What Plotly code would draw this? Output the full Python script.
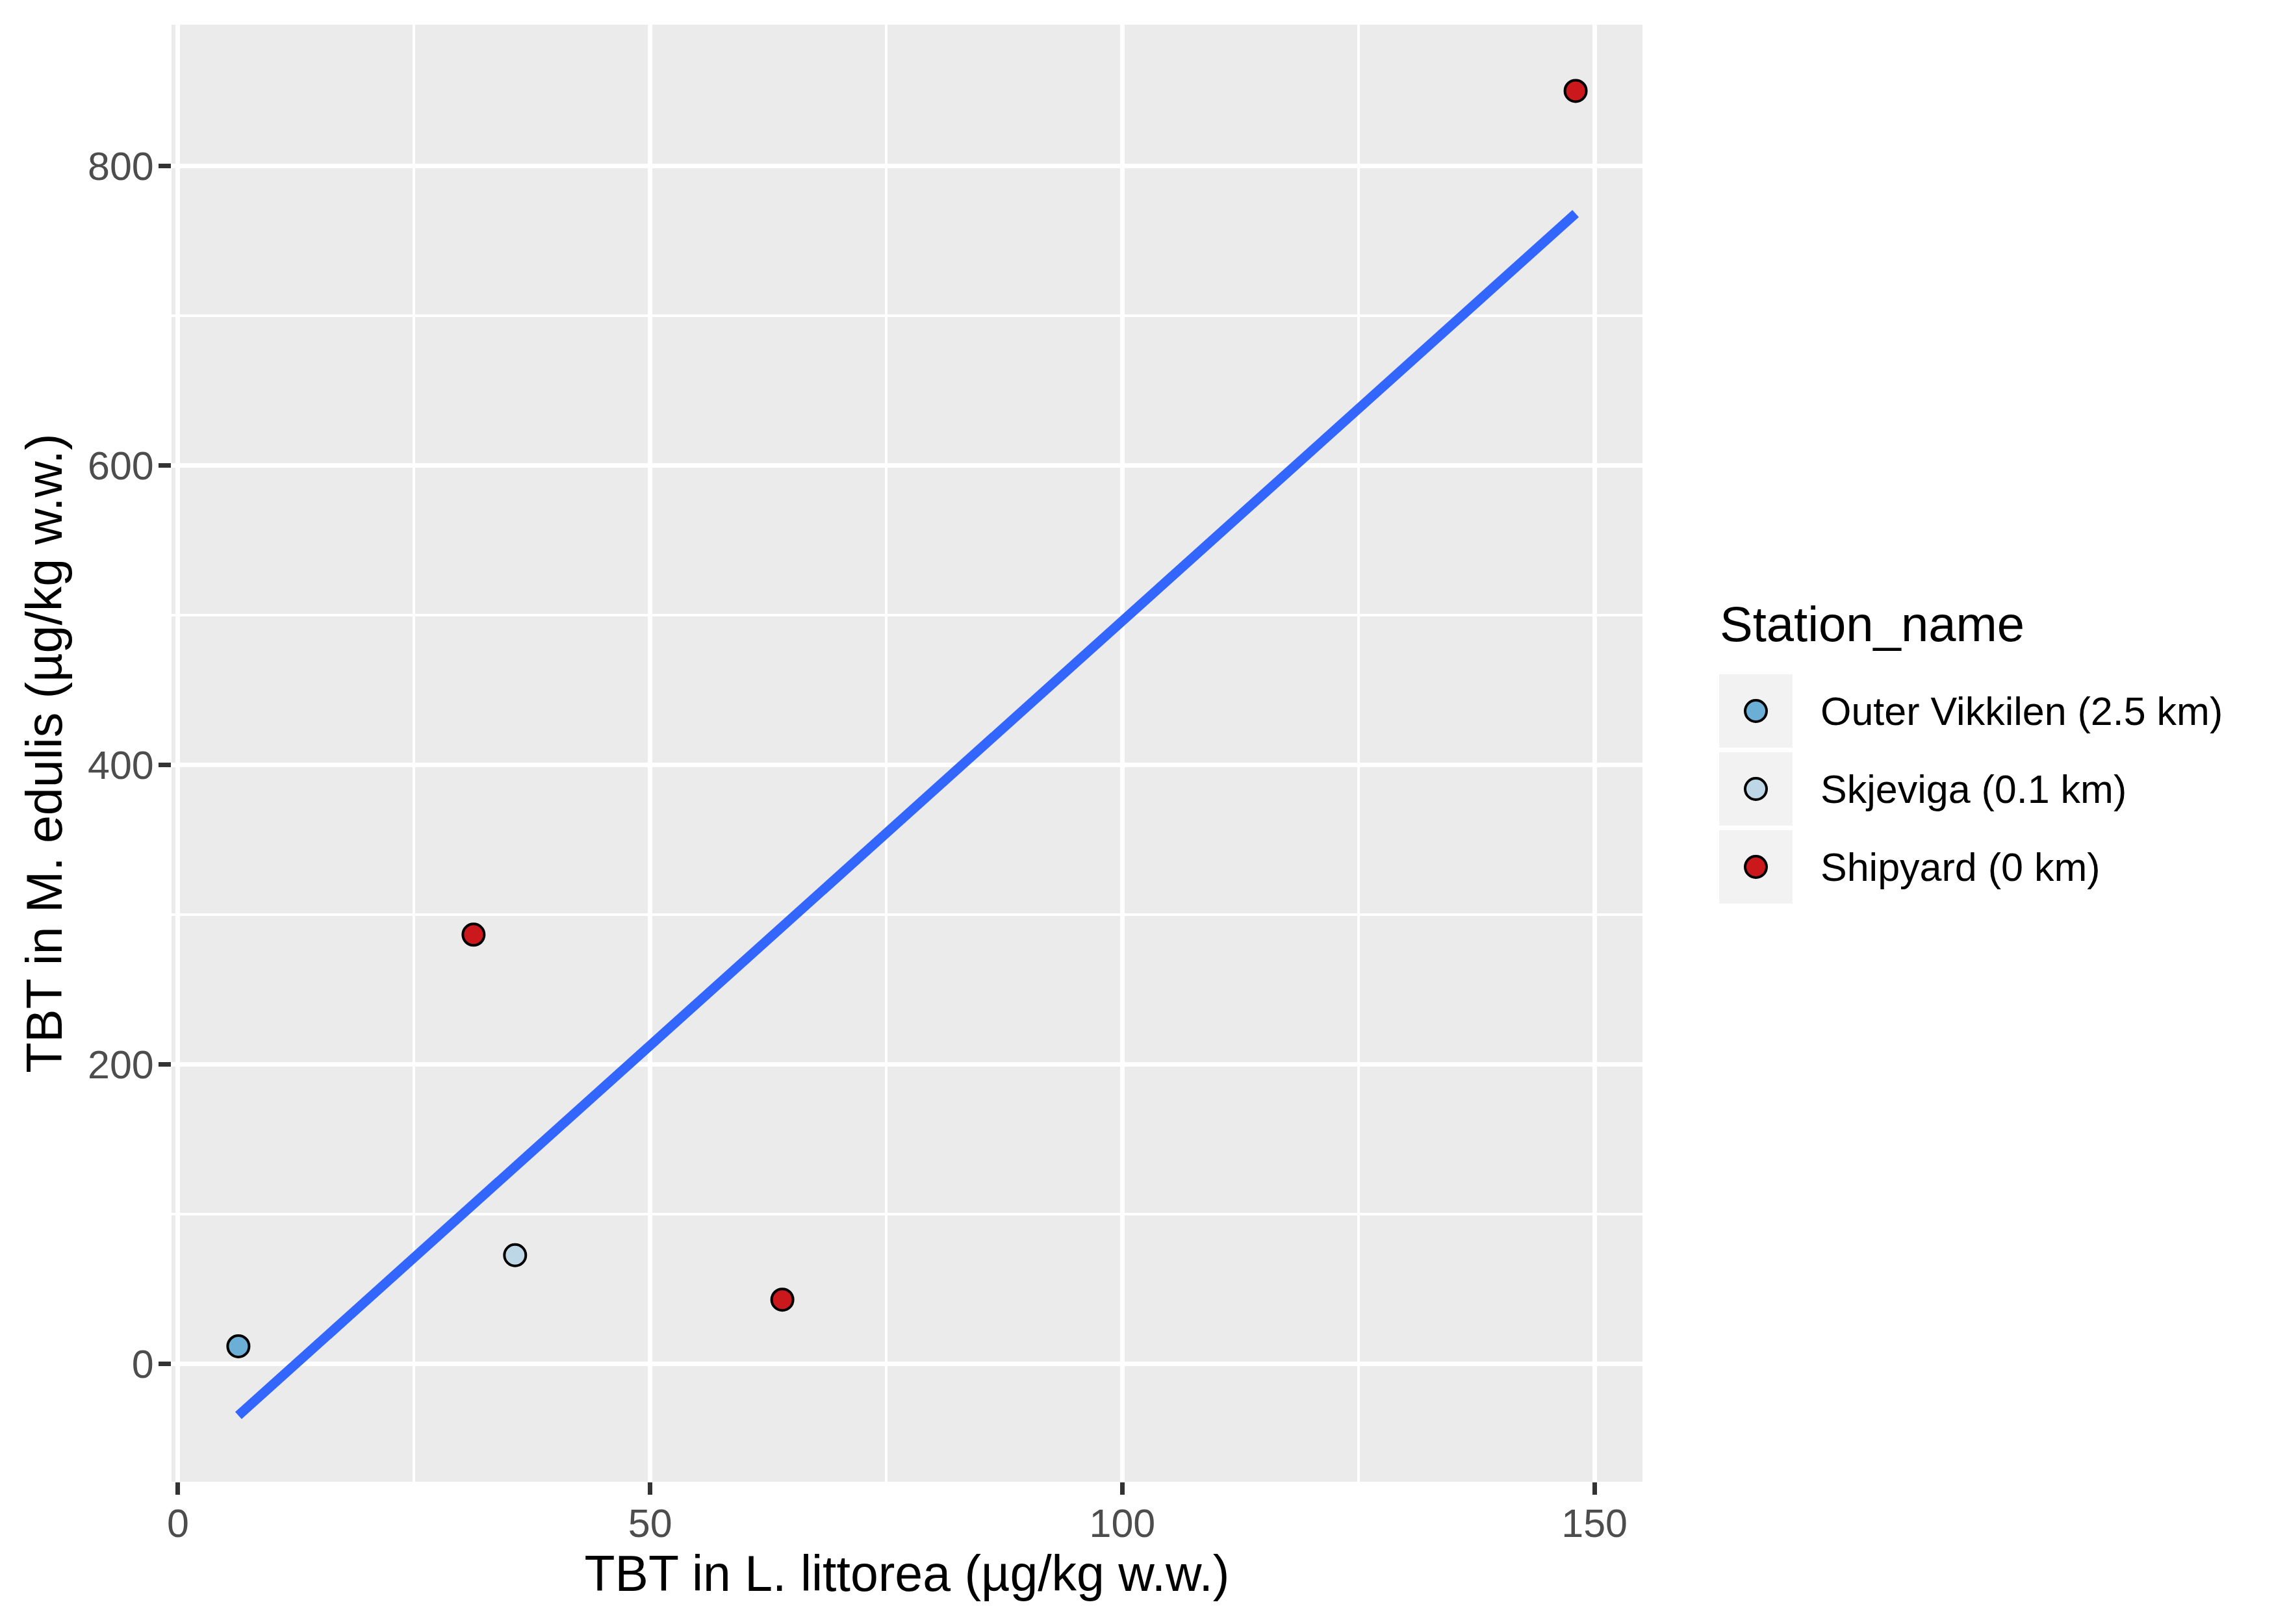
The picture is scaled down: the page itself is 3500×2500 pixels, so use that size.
import numpy as np
import plotly.graph_objects as go

# ---------------- data ----------------
tbt_littorea = [6.4, 31.3, 35.7, 64.0, 148.0]
tbt_edulis = [11.8, 286.6, 72.6, 42.9, 850.0]
station = ["Outer Vikkilen (2.5 km)", "Shipyard (0 km)", "Skjeviga (0.1 km)",
           "Shipyard (0 km)", "Shipyard (0 km)"]
station_levels = ["Outer Vikkilen (2.5 km)", "Skjeviga (0.1 km)", "Shipyard (0 km)"]
station_colors = ["#6BAED6", "#BDD7E7", "#CB181D"]
x_ticks = [0, 50, 100, 150]
y_ticks = [0, 200, 400, 600, 800]
x_minor = [25, 75, 125]
y_minor = [100, 300, 500, 700]

# ---------------- layout constants (pixels, page coordinates) ----------------
OFF = 8                      # default body margin of the html page
W, H = 3500 - OFF, 2500 - OFF
PANEL_L, PANEL_R, PANEL_T, PANEL_B = 264, 2528, 38, 2281
ML = PANEL_L - OFF
MT = PANEL_T - OFF
MR = W - (PANEL_R - OFF)
MB = H - (PANEL_B - OFF)
PW = PANEL_R - PANEL_L
PH = PANEL_B - PANEL_T
FONT = "Liberation Sans, Arial, sans-serif"


def px(X):
    return (X - PANEL_L) / PW


def py(Y):
    return (PANEL_B - Y) / PH


# linear model fit (geom_smooth(method = "lm"))
slope, intercept = np.polyfit(tbt_littorea, tbt_edulis, 1)
line_x = np.linspace(min(tbt_littorea), max(tbt_littorea), 80)
line_y = intercept + slope * line_x


def expand(lo, hi, m=0.05):
    d = hi - lo
    return [lo - m * d, hi + m * d]


xr = expand(min(tbt_littorea), max(tbt_littorea))
yr = expand(min(min(tbt_edulis), line_y.min()), max(max(tbt_edulis), line_y.max()))

fig = go.Figure()

for lev, col in zip(station_levels, station_colors):
    xs = [x for x, s in zip(tbt_littorea, station) if s == lev]
    ys = [y for y, s in zip(tbt_edulis, station) if s == lev]
    fig.add_trace(go.Scatter(
        x=xs, y=ys, mode="markers", name=lev, showlegend=False,
        marker=dict(size=33, color=col, line=dict(color="black", width=4)),
    ))

fig.add_trace(go.Scatter(
    x=line_x, y=line_y, mode="lines", showlegend=False,
    line=dict(color="#3366FF", width=14.8),
))

axis_common = dict(
    showline=False, zeroline=False, automargin=False,
    ticks="outside", ticklen=19, tickwidth=7, tickcolor="#333333",
    showgrid=True, gridcolor="white", gridwidth=7,
    tickfont=dict(family=FONT, size=61, color="#4D4D4D"),
)

fig.update_xaxes(
    **axis_common, range=xr, tickmode="array", tickvals=x_ticks,
    ticktext=[str(v) for v in x_ticks], ticklabelstandoff=-8,
    minor=dict(tickmode="array", tickvals=x_minor, showgrid=True,
               gridcolor="white", gridwidth=3.5, ticks=""),
    title=dict(text="TBT in L. littorea (µg/kg w.w.)",
               font=dict(family=FONT, size=77, color="black"), standoff=11),
)
fig.update_yaxes(
    **axis_common, range=yr, tickmode="array", tickvals=y_ticks,
    ticktext=[str(v) for v in y_ticks], ticklabelstandoff=-5,
    minor=dict(tickmode="array", tickvals=y_minor, showgrid=True,
               gridcolor="white", gridwidth=3.5, ticks=""),
    title=dict(text="TBT in M. edulis (µg/kg w.w.)",
               font=dict(family=FONT, size=77, color="black"), standoff=14),
)

# ---------------- manual legend (ggplot style keys) ----------------
shapes = []
annotations = []
key_left, key_size, key_gap = 2646, 113, 7
key_top0 = 1038
marker_d = 33
annotations.append(dict(
    x=px(2645), y=py(960), xref="paper", yref="paper", xanchor="left",
    yanchor="middle", text="Station_name", showarrow=False,
    font=dict(family=FONT, size=76, color="black"),
))
for i, (lev, col) in enumerate(zip(station_levels, station_colors)):
    top = key_top0 + i * (key_size + key_gap)
    shapes.append(dict(
        type="rect", xref="paper", yref="paper",
        x0=px(key_left), x1=px(key_left + key_size),
        y0=py(top + key_size), y1=py(top),
        fillcolor="#F2F2F2", line=dict(width=0), layer="above",
    ))
    cx = key_left + key_size / 2
    cy = top + key_size / 2
    shapes.append(dict(
        type="circle", xref="paper", yref="paper",
        x0=px(cx - marker_d / 2), x1=px(cx + marker_d / 2),
        y0=py(cy + marker_d / 2), y1=py(cy - marker_d / 2),
        fillcolor=col, line=dict(color="black", width=4), layer="above",
    ))
    annotations.append(dict(
        x=px(2800), y=py(cy), xref="paper", yref="paper", xanchor="left",
        yanchor="middle", text=lev, showarrow=False,
        font=dict(family=FONT, size=61, color="black"),
    ))

fig.update_layout(
    width=W, height=H,
    margin=dict(l=ML, r=MR, t=MT, b=MB, autoexpand=False),
    paper_bgcolor="white", plot_bgcolor="#EBEBEB",
    font=dict(family=FONT),
    shapes=shapes, annotations=annotations,
    showlegend=False,
)

fig.write_html("out.html")
